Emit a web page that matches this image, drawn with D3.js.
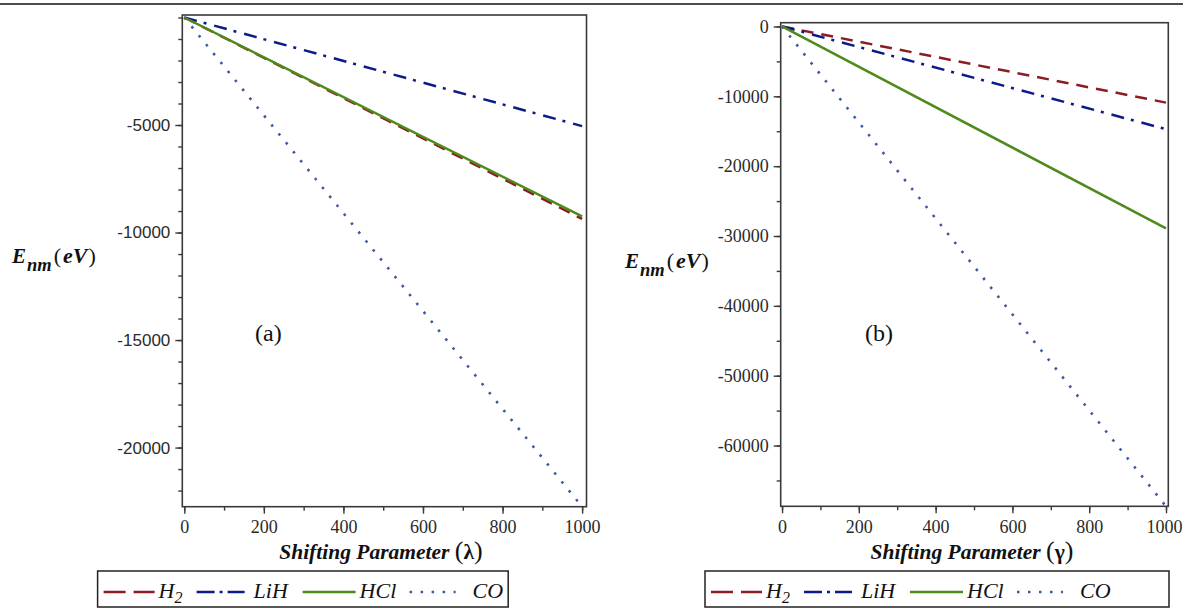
<!DOCTYPE html>
<html>
<head>
<meta charset="utf-8">
<script src="https://cdn.jsdelivr.net/npm/d3@7"></script>
<style>
  body { margin: 0; background: #fff; }
  text { font-family: "Liberation Serif", "Times New Roman", serif; }
</style>
</head>
<body>
<script>
// Shifting parameter values (both panels)
var xValues = [0, 1000];

// Panel (a): E_nm vs lambda
var aH2  = [0, -9370];
var aLiH = [0, -5050];
var aHCl = [0, -9250];
var aCO  = [0, -22750];

// Panel (b): E_nm vs gamma
var bH2  = [0, -10900];
var bLiH = [0, -14700];
var bHCl = [0, -28900];
var bCO  = [0, -68700];

var seriesNames = ['H2', 'LiH', 'HCl', 'CO'];
var xTicks = [0, 200, 400, 600, 800, 1000];
var aYTicks = [-20000, -15000, -10000, -5000];
var bYTicks = [0, -10000, -20000, -30000, -40000, -50000, -60000];

// line styles per series
var styles = {
  H2:  {color: '#8c1c24', dash: '12,8',      legendDash: '22,8'},
  LiH: {color: '#0c1b8a', dash: '13,7,3,8',  legendDash: '18,5,3,5'},
  HCl: {color: '#4f8a1c', dash: null,        legendDash: null},
  CO:  {color: '#3d5a9e', dash: '2.5,9',     legendDash: '2.5,8.5'}
};

var W = 1183, H = 608;

var svg = d3.select('body').append('svg')
    .attr('width', W)
    .attr('height', H);

// rule across the top of the figure
svg.append('line')
    .attr('x1', 0).attr('x2', W)
    .attr('y1', 4).attr('y2', 4)
    .attr('stroke', '#111')
    .attr('stroke-width', 1.5);

var panels = [
  {
    id: 'a', left: 182.3, right: 586.5, top: 15, bottom: 506.7,
    xDomain: [-5, 1011], yDomain: [-22750, 116],
    series: {H2: aH2, LiH: aLiH, HCl: aHCl, CO: aCO},
    yTicks: aYTicks, yMinorStep: 1000, yFont: '"Liberation Sans", Arial, sans-serif', yFontSize: 17,
    greek: '\u03bb', titleX: 381,
    yLabelX: 12, yLabelY: 263,
    tagX: 255, tagY: 341, tag: '(a)',
    legendX: 97.6, legendW: 410.6
  },
  {
    id: 'b', left: 780.7, right: 1168.3, top: 22.7, bottom: 506.3,
    xDomain: [-3.5, 1006], yDomain: [-68700, 540],
    series: {H2: bH2, LiH: bLiH, HCl: bHCl, CO: bCO},
    yTicks: bYTicks, yMinorStep: 5000, yFont: '"Liberation Serif", serif', yFontSize: 18,
    greek: '\u03b3', titleX: 972,
    yLabelX: 625, yLabelY: 268,
    tagX: 865, tagY: 341, tag: '(b)',
    legendX: 705, legendW: 464
  }
];

// legend item offsets from the legend's left edge
var legendSample = {H2: [6, 57], LiH: [99, 147], HCl: [205, 258], CO: [312, 358]};
var legendText = {H2: 61, LiH: 156, HCl: 262, CO: 375};

function fmt(d) { return d < 0 ? '-' + Math.abs(d) : String(d); }

panels.forEach(function(p) {
  var xScale = d3.scaleLinear().domain(p.xDomain).range([p.left, p.right]);
  var yScale = d3.scaleLinear().domain(p.yDomain).range([p.bottom, p.top]);

  var g = svg.append('g');

  g.append('clipPath').attr('id', 'clip-' + p.id)
    .append('rect')
    .attr('x', p.left).attr('y', p.top)
    .attr('width', p.right - p.left).attr('height', p.bottom - p.top);

  var drawLine = d3.line()
      .x(function(d) { return xScale(d[0]); })
      .y(function(d) { return yScale(d[1]); });

  // series lines, drawn so HCl ends up over H2 like the original
  ['CO', 'H2', 'LiH', 'HCl'].forEach(function(name) {
    var vals = p.series[name];
    var pts = xValues.map(function(x, i) { return [x, vals[i]]; });
    g.append('path')
      .attr('d', drawLine(pts))
      .attr('clip-path', 'url(#clip-' + p.id + ')')
      .attr('fill', 'none')
      .attr('stroke', styles[name].color)
      .attr('stroke-width', name === 'CO' ? 2.6 : 2.5)
      .attr('stroke-dasharray', styles[name].dash);
  });

  // frame
  g.append('rect')
    .attr('x', p.left).attr('y', p.top)
    .attr('width', p.right - p.left).attr('height', p.bottom - p.top)
    .attr('fill', 'none')
    .attr('stroke', '#3a3a3a')
    .attr('stroke-width', 1.6);

  // x axis: minor then major ticks
  var xMinor = d3.range(0, 1001, 100);
  g.append('g')
    .attr('transform', 'translate(0,' + p.bottom + ')')
    .call(d3.axisBottom(xScale).tickValues(xMinor).tickSize(4).tickFormat(''))
    .call(function(a) { a.select('.domain').remove(); })
    .selectAll('line').attr('stroke', '#3a3a3a').attr('stroke-width', 1.4);

  var xAx = g.append('g')
    .attr('transform', 'translate(0,' + p.bottom + ')')
    .call(d3.axisBottom(xScale).tickValues(xTicks).tickSize(7).tickPadding(6.5).tickFormat(fmt));
  xAx.select('.domain').remove();
  xAx.selectAll('line').attr('stroke', '#3a3a3a').attr('stroke-width', 1.4);
  xAx.selectAll('text')
    .style('font-family', '"Liberation Serif", serif')
    .style('font-size', '18px')
    .attr('fill', '#2a2a2a');
  // the last label sits at the page edge, nudge it in a little
  xAx.selectAll('.tick').filter(function(d) { return d === 1000; })
    .select('text').attr('dx', p.id === 'b' ? -2 : 0);

  // y axis: minor then major ticks
  var yMinor = d3.range(0, p.yDomain[0] - 1, -p.yMinorStep);
  g.append('g')
    .attr('transform', 'translate(' + p.left + ',0)')
    .call(d3.axisLeft(yScale).tickValues(yMinor).tickSize(4).tickFormat(''))
    .call(function(a) { a.select('.domain').remove(); })
    .selectAll('line').attr('stroke', '#3a3a3a').attr('stroke-width', 1.4);

  var yAx = g.append('g')
    .attr('transform', 'translate(' + p.left + ',0)')
    .call(d3.axisLeft(yScale).tickValues(p.yTicks).tickSize(7).tickPadding(5).tickFormat(fmt));
  yAx.select('.domain').remove();
  yAx.selectAll('line').attr('stroke', '#3a3a3a').attr('stroke-width', 1.4);
  yAx.selectAll('text')
    .style('font-family', p.yFont)
    .style('font-size', p.yFontSize + 'px')
    .attr('fill', '#2a2a2a');

  // x axis title
  var xt = g.append('text')
    .attr('x', p.titleX).attr('y', 559)
    .attr('text-anchor', 'middle')
    .attr('fill', '#111');
  xt.append('tspan').text('Shifting Parameter ')
    .style('font-weight', 'bold').style('font-style', 'italic').style('font-size', '21.5px');
  xt.append('tspan').text('(').style('font-size', '26px');
  xt.append('tspan').text(p.greek).style('font-weight', 'bold').style('font-size', '21.5px');
  xt.append('tspan').text(')').style('font-size', '26px');

  // y axis title E_nm(eV)
  var yt = g.append('text')
    .attr('x', p.yLabelX).attr('y', p.yLabelY)
    .attr('fill', '#111');
  yt.append('tspan').text('E')
    .style('font-weight', 'bold').style('font-style', 'italic').style('font-size', '21px');
  yt.append('tspan').text('nm').attr('dy', 8).attr('dx', 1)
    .style('font-weight', 'bold').style('font-style', 'italic').style('font-size', '18.5px');
  yt.append('tspan').text('(').attr('dy', -8).attr('dx', 2).style('font-size', '22px');
  yt.append('tspan').text('eV').attr('dx', 2)
    .style('font-weight', 'bold').style('font-style', 'italic').style('font-size', '22px');
  yt.append('tspan').text(')').attr('dx', 1).style('font-size', '22px');

  // panel tag
  g.append('text')
    .attr('x', p.tagX).attr('y', p.tagY)
    .style('font-size', '24px')
    .attr('fill', '#111')
    .text(p.tag);

  // legend
  var lg = g.append('g').attr('transform', 'translate(' + p.legendX + ',571)');
  lg.append('rect')
    .attr('x', 0).attr('y', 0)
    .attr('width', p.legendW).attr('height', 36)
    .attr('fill', '#fff')
    .attr('stroke', '#222')
    .attr('stroke-width', 1.5);

  seriesNames.forEach(function(name) {
    var s = legendSample[name];
    lg.append('line')
      .attr('x1', s[0]).attr('x2', s[1])
      .attr('y1', 21).attr('y2', 21)
      .attr('stroke', styles[name].color)
      .attr('stroke-width', 2.6)
      .attr('stroke-dasharray', styles[name].legendDash);
    var t = lg.append('text')
      .attr('x', legendText[name]).attr('y', 27)
      .style('font-style', 'italic')
      .style('font-size', '22px')
      .attr('fill', '#111');
    if (name === 'H2') {
      t.append('tspan').text('H');
      t.append('tspan').text('2').attr('dy', 5).style('font-size', '16px');
    } else {
      t.text(name);
    }
  });
});
</script>
</body>
</html>
